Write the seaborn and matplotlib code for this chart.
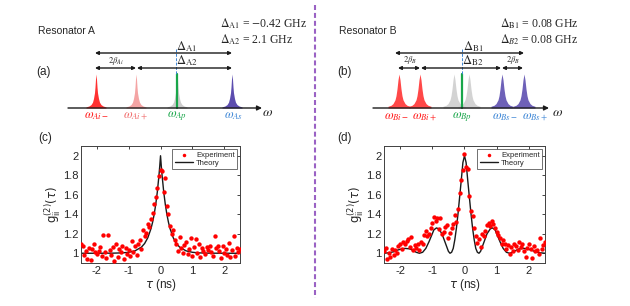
import numpy as np
import pandas as pd
import matplotlib
matplotlib.use("Agg")
import matplotlib.pyplot as plt
import seaborn as sns

tau_exp = [-2.50, -2.45, -2.40, -2.35, -2.30, -2.25, -2.20, -2.15, -2.10, -2.05,
           -2.00, -1.95, -1.90, -1.85, -1.80, -1.75, -1.70, -1.65, -1.60, -1.55,
           -1.50, -1.45, -1.40, -1.35, -1.30, -1.25, -1.20, -1.15, -1.10, -1.05,
           -1.00, -0.95, -0.90, -0.85, -0.80, -0.75, -0.70, -0.65, -0.60, -0.55,
           -0.50, -0.45, -0.40, -0.35, -0.30, -0.25, -0.20, -0.15, -0.10, -0.05,
           0.00,
           0.05, 0.10, 0.15, 0.20, 0.25, 0.30, 0.35, 0.40, 0.45, 0.50,
           0.55, 0.60, 0.65, 0.70, 0.75, 0.80, 0.85, 0.90, 0.95, 1.00,
           1.05, 1.10, 1.15, 1.20, 1.25, 1.30, 1.35, 1.40, 1.45, 1.50,
           1.55, 1.60, 1.65, 1.70, 1.75, 1.80, 1.85, 1.90, 1.95, 2.00,
           2.05, 2.10, 2.15, 2.20, 2.25, 2.30, 2.35, 2.40, 2.45, 2.50]

g2_exp_a = [1.09, 1.07, 0.98, 1.02, 0.94, 1.05, 0.93, 1.04, 1.09, 1.01,
            0.99, 1.02, 1.06, 0.97, 1.19, 1.01, 0.95, 1.19, 1.03, 0.98,
            1.06, 0.92, 1.10, 0.96, 1.04, 1.01, 1.07, 0.94, 1.05, 0.99,
            1.03, 0.97, 1.13, 1.01, 1.07, 0.98, 1.10, 1.14, 1.04, 1.24,
            1.18, 1.21, 1.30, 1.27, 1.35, 1.41, 1.50, 1.58, 1.67, 1.79,
            1.85,
            1.84, 1.63, 1.77, 1.48, 1.40, 1.28, 1.20, 1.24, 1.14, 1.10,
            1.02, 1.17, 1.05, 1.00, 1.08, 1.12, 0.99, 1.04, 1.16, 0.97,
            1.06, 1.15, 1.00, 1.09, 0.96, 1.05, 1.02, 0.99, 1.06, 1.03,
            1.07, 1.01, 0.97, 1.18, 1.05, 1.07, 1.02, 0.95, 1.07, 1.00,
            1.04, 0.98, 1.11, 0.96, 1.03, 1.18, 0.97, 1.05, 1.01, 1.04]

g2_exp_b = [1.02, 1.05, 0.94, 1.00, 0.96, 1.04, 0.98, 1.03, 1.00, 1.07,
            1.09, 1.04, 1.12, 1.10, 1.13, 1.15, 1.06, 1.17, 1.03, 1.08,
            1.05, 1.10, 1.03, 1.12, 1.09, 1.19, 1.23, 1.18, 1.20, 1.26,
            1.31, 1.37, 1.33, 1.36, 1.25, 1.36, 1.20, 1.22, 1.27, 1.29,
            1.16, 1.21, 1.26, 1.30, 1.39, 1.32, 1.45, 1.62, 1.75, 1.85,
            2.02,
            1.88, 1.86, 1.59, 1.43, 1.38, 1.26, 1.18, 1.11, 1.15, 1.06,
            1.20, 1.18, 1.23, 1.29, 1.31, 1.28, 1.33, 1.30, 1.26, 1.22,
            1.19, 1.16, 1.10, 1.14, 1.09, 1.04, 1.08, 0.99, 1.06, 1.02,
            1.10, 1.07, 1.03, 1.12, 1.06, 1.10, 1.02, 0.96, 1.05, 1.09,
            1.04, 0.95, 1.07, 1.02, 1.03, 0.99, 1.16, 1.04, 1.08, 1.12]

# ---- theory curves ----
tau_th_a = [-2.5, -2.0, -1.5, -1.2, -1.0, -0.8, -0.6, -0.5, -0.4, -0.3, -0.25, -0.2,
            -0.15, -0.1, -0.05, -0.025, 0.0, 0.025, 0.05, 0.1, 0.15, 0.2, 0.25,
            0.3, 0.4, 0.5, 0.6, 0.8, 1.0, 1.2, 1.5, 2.0, 2.5]
g2_th_a = [1.0, 1.0, 1.001, 1.004, 1.010, 1.025, 1.063, 1.100, 1.159, 1.252, 1.317, 1.399,
           1.502, 1.631, 1.795, 1.891, 2.0, 1.891, 1.795, 1.631, 1.502, 1.399, 1.317,
           1.252, 1.159, 1.100, 1.063, 1.025, 1.010, 1.004, 1.001, 1.0, 1.0]

tau_th_b = [-2.5, -2.35, -2.2, -2.1, -2.0, -1.85, -1.7, -1.6, -1.5, -1.4, -1.3, -1.2,
            -1.1, -1.0, -0.95, -0.87, -0.8, -0.7, -0.6, -0.5, -0.45, -0.4, -0.35,
            -0.3, -0.25, -0.2, -0.15, -0.1, -0.05, 0.0, 0.05, 0.1, 0.15, 0.2, 0.25,
            0.3, 0.35, 0.4, 0.45, 0.5, 0.6, 0.7, 0.8, 0.87, 0.95, 1.0, 1.1, 1.2,
            1.3, 1.4, 1.5, 1.6, 1.7, 1.85, 2.0, 2.1, 2.2, 2.35, 2.5]
g2_th_b = [1.0, 1.005, 1.015, 1.03, 1.04, 1.05, 1.045, 1.03, 1.01, 1.0, 1.01, 1.05,
           1.12, 1.2, 1.24, 1.26, 1.25, 1.2, 1.11, 1.02, 1.0, 1.01, 1.05,
           1.14, 1.26, 1.41, 1.58, 1.75, 1.93, 2.0, 1.93, 1.75, 1.58, 1.41, 1.26,
           1.14, 1.05, 1.01, 1.0, 1.02, 1.11, 1.2, 1.25, 1.26, 1.24, 1.2, 1.12, 1.05,
           1.01, 1.0, 1.01, 1.03, 1.045, 1.05, 1.04, 1.03, 1.015, 1.005, 1.0]

xtick_vals = [-2, -1, 0, 1, 2]
ytick_vals = [1, 1.2, 1.4, 1.6, 1.8, 2]
ytick_labels = ["1", "1.2", "1.4", "1.6", "1.8", "2"]

# schematic line shapes (relative height vs offset in px)
peak_off_a = [-10, -7, -5, -3.5, -2.5, -1.5, -1, -0.5, 0, 0.5, 1, 1.5, 2.5, 3.5, 5, 7, 10]
peak_h_a = [0.03, 0.06, 0.1, 0.17, 0.28, 0.45, 0.62, 0.85, 1.0, 0.85, 0.62, 0.45, 0.28, 0.17, 0.1, 0.06, 0.03]
peak_off_b = [-11, -8, -6, -4, -3, -2, -1, 0, 1, 2, 3, 4, 6, 8, 11]
peak_h_b = [0.05, 0.08, 0.13, 0.24, 0.36, 0.56, 0.83, 1.0, 0.83, 0.56, 0.36, 0.24, 0.13, 0.08, 0.05]

sns.set_theme(style="white")
plt.rcParams["font.family"] = ["Liberation Sans", "DejaVu Sans"]
plt.rcParams["axes.unicode_minus"] = False

fig = plt.figure(figsize=(6.3, 3.06), dpi=100)

# overlay for the schematic parts, in pixel coords
ax0 = fig.add_axes([0, 0, 1, 1], zorder=-1)
ax0.set_xlim(0, 630)
ax0.set_ylim(306, 0)
ax0.axis("off")

SERIF = "stix"
base_y = 108
peak_hgt = 34


def draw_peak(cx, offs, hs, color, alpha=0.9):
    xs = np.array(offs) + cx
    ys = base_y - np.array(hs) * peak_hgt
    ax0.fill_between(xs, ys, base_y, color=color, alpha=alpha, lw=0)


def darrow(x1, x2, y):
    ax0.annotate("", xy=(x2, y), xytext=(x1, y),
                 arrowprops=dict(arrowstyle="<|-|>", lw=1.0, color="k",
                                 mutation_scale=5, shrinkA=0, shrinkB=0))


def omega_axis(x1, x2, xl):
    ax0.annotate("", xy=(x2, base_y), xytext=(x1, base_y),
                 arrowprops=dict(arrowstyle="-|>", lw=1.0, color="k",
                                 mutation_scale=7, shrinkA=0, shrinkB=0))
    ax0.text(xl, base_y + 4, r"$\omega$", fontsize=10, ha="center", va="center",
             math_fontfamily=SERIF)


red, pink, grey, green, indigo, blue = "#ff1a1a", "#f39a9a", "#c9c9c9", "#19a64a", "#4a3aa6", "#3d86d6"

# ---- (a) Resonator A ----
draw_peak(96, peak_off_a, peak_h_a, red)
draw_peak(136, peak_off_a, peak_h_a, pink)
draw_peak(177, peak_off_a, peak_h_a, grey)
draw_peak(232, peak_off_a, peak_h_a, indigo)
ax0.plot([177, 177], [base_y, base_y - peak_hgt], color=green, lw=1.6)
omega_axis(68, 262, 268)
darrow(95, 232, 53)
darrow(95, 136, 68)
darrow(137, 232, 68)
ax0.plot([176, 176], [49, 74], color=blue, lw=0.7, ls=(0, (3, 1.5)))
ax0.text(187, 47, r"$\Delta_{\mathrm{A1}}$", fontsize=9, ha="center", va="center", math_fontfamily=SERIF)
ax0.text(187, 61, r"$\Delta_{\mathrm{A2}}$", fontsize=9, ha="center", va="center", math_fontfamily=SERIF)
ax0.text(116, 61, r"$2\beta_{Ai}$", fontsize=6, ha="center", va="center", math_fontfamily=SERIF)
ax0.text(38, 31, "Resonator A", fontsize=7.5, ha="left", va="center")
ax0.text(36, 72, "(a)", fontsize=8.5, ha="left", va="center")
ax0.text(220, 24, r"$\Delta_{\mathrm{A1}}$ = $-$0.42 GHz", fontsize=8.5, ha="left", va="center",
         family="Liberation Serif", math_fontfamily=SERIF)
ax0.text(220, 40, r"$\Delta_{\mathrm{A2}}$ = 2.1 GHz", fontsize=8.5, ha="left", va="center",
         family="Liberation Serif", math_fontfamily=SERIF)
for x, lab, c in [(96, r"$\omega_{Ai-}$", red), (136, r"$\omega_{Ai+}$", "#f06a6a"),
                  (177, r"$\omega_{Ap}$", green), (234, r"$\omega_{As}$", blue)]:
    ax0.text(x, 116, lab, fontsize=9, ha="center", va="center", color=c, math_fontfamily=SERIF)

# ---- (b) Resonator B ----
for cx in (399, 420):
    draw_peak(cx, peak_off_b, peak_h_b, red, 0.8)
for cx in (454, 469):
    draw_peak(cx, peak_off_b, peak_h_b, grey, 0.8)
for cx in (502, 524):
    draw_peak(cx, peak_off_b, peak_h_b, indigo, 0.8)
ax0.plot([462, 462], [base_y, base_y - peak_hgt], color=green, lw=1.6)
omega_axis(373, 549, 558)
darrow(395, 524, 53)
darrow(398, 420, 68)
darrow(421, 501, 68)
darrow(502, 523, 68)
ax0.plot([462, 462], [49, 74], color=blue, lw=0.7, ls=(0, (3, 1.5)))
ax0.text(473, 47, r"$\Delta_{\mathrm{B1}}$", fontsize=9, ha="center", va="center", math_fontfamily=SERIF)
ax0.text(473, 61, r"$\Delta_{\mathrm{B2}}$", fontsize=9, ha="center", va="center", math_fontfamily=SERIF)
ax0.text(410, 60, r"$2\beta_{B}$", fontsize=6, ha="center", va="center", math_fontfamily=SERIF)
ax0.text(513, 60, r"$2\beta_{B}$", fontsize=6, ha="center", va="center", math_fontfamily=SERIF)
ax0.text(339, 31, "Resonator B", fontsize=7.5, ha="left", va="center")
ax0.text(337, 72, "(b)", fontsize=8.5, ha="left", va="center")
ax0.text(500, 24, r"$\Delta_{\mathrm{B1}}$ = 0.08 GHz", fontsize=8.5, ha="left", va="center",
         family="Liberation Serif", math_fontfamily=SERIF)
ax0.text(500, 40, r"$\Delta_{B2}$ = 0.08 GHz", fontsize=8.5, ha="left", va="center",
         family="Liberation Serif", math_fontfamily=SERIF)
for x, lab, c in [(396, r"$\omega_{Bi-}$", red), (425, r"$\omega_{Bi+}$", red),
                  (462, r"$\omega_{Bp}$", green), (505, r"$\omega_{Bs-}$", blue),
                  (535, r"$\omega_{Bs+}$", blue)]:
    ax0.text(x, 117, lab, fontsize=9, ha="center", va="center", color=c, math_fontfamily=SERIF)

# dividing line and lower panel labels
ax0.plot([315, 315], [5, 298], color="#9a62c4", lw=1.5, dashes=(2.4, 1.4))
ax0.text(38, 138, "(c)", fontsize=8.5, ha="left", va="center")
ax0.text(337, 138, "(d)", fontsize=8.5, ha="left", va="center")


# ---- g2 panels ----
def g2_panel(rect, g2_exp, tau_th, g2_th):
    ax = fig.add_axes(rect)
    df = pd.DataFrame({"tau": tau_exp, "g2": g2_exp})
    sns.scatterplot(data=df, x="tau", y="g2", ax=ax, color="red", s=10,
                    linewidth=0, label="Experiment", zorder=3)
    sns.lineplot(x=tau_th, y=g2_th, ax=ax, color="k", lw=1.0, label="Theory",
                 zorder=2, sort=False)
    ax.set_xlim(-2.5, 2.5)
    ax.set_ylim(0.9, 2.1)
    ax.set_xticks(xtick_vals)
    ax.set_yticks(ytick_vals)
    ax.set_yticklabels(ytick_labels)
    ax.tick_params(direction="in", top=True, right=True, length=2.5, width=0.6,
                   labelsize=8, pad=2, colors="#262626")
    for sp in ax.spines.values():
        sp.set_color("#404040")
        sp.set_linewidth(0.7)
    ax.set_xlabel(r"$\tau$ (ns)", fontsize=8.5, labelpad=1)
    ax.set_ylabel(r"$\mathrm{g}^{(2)}_{\mathrm{ii}}(\tau)$", fontsize=8.5, labelpad=0)
    leg = ax.legend(loc="upper right", fontsize=5.5, frameon=True, fancybox=False,
                    borderpad=0.3, handlelength=2.4, handletextpad=0.4,
                    labelspacing=0.1, borderaxespad=0.4, markerscale=0.8)
    leg.get_frame().set_edgecolor("#303030")
    leg.get_frame().set_linewidth(0.6)
    return ax


g2_panel([0.1286, 0.1405, 0.2524, 0.3824], g2_exp_a, tau_th_a, g2_th_a)
g2_panel([0.6095, 0.1405, 0.2556, 0.3824], g2_exp_b, tau_th_b, g2_th_b)

fig.savefig("out.png", dpi=100)
